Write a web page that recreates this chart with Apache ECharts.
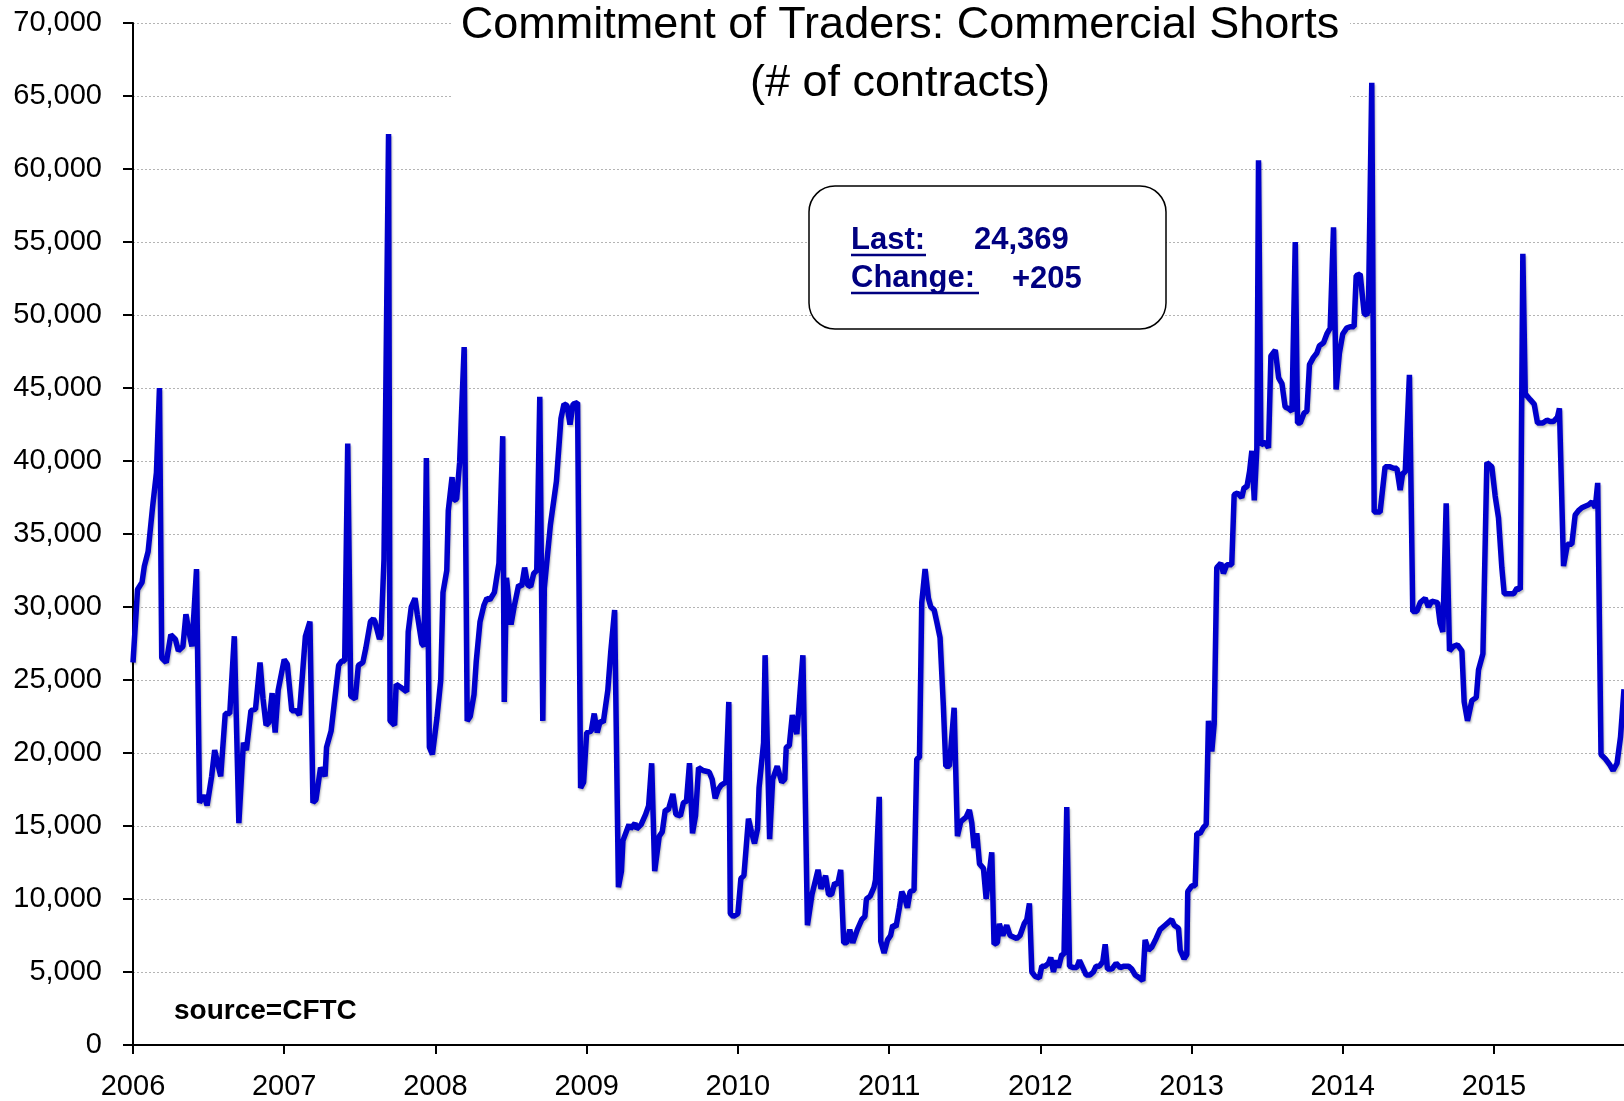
<!DOCTYPE html>
<html>
<head>
<meta charset="utf-8">
<title>Commitment of Traders: Commercial Shorts</title>
<script src="https://cdn.jsdelivr.net/npm/echarts@6/dist/echarts.min.js"></script>
<style>
    html, body { margin: 0; padding: 0; background: #fff; }
    #main { width: 1624px; height: 1101px; }
</style>
</head>
<body>
<div id="main"></div>
<script>
    // commercial shorts, x is the date as a decimal year
    var t0607 = [2006.00, 2006.03, 2006.06, 2006.075, 2006.10, 2006.13, 2006.155, 2006.175, 2006.19, 2006.22,
        2006.25, 2006.28, 2006.30, 2006.33, 2006.35, 2006.37, 2006.39, 2006.42, 2006.44, 2006.47,
        2006.49, 2006.52, 2006.54, 2006.58, 2006.61, 2006.64, 2006.67, 2006.70, 2006.73, 2006.75,
        2006.78, 2006.81, 2006.84, 2006.86, 2006.88, 2006.90, 2006.92, 2006.94, 2006.96, 2007.00,
        2007.02, 2007.05, 2007.08, 2007.10, 2007.14, 2007.17, 2007.19, 2007.21, 2007.24, 2007.27,
        2007.28, 2007.31, 2007.33, 2007.36, 2007.38, 2007.40, 2007.42, 2007.44, 2007.47, 2007.49,
        2007.52, 2007.54, 2007.57, 2007.59, 2007.60, 2007.63, 2007.64, 2007.66, 2007.69, 2007.70,
        2007.73, 2007.74, 2007.77, 2007.81, 2007.82, 2007.84, 2007.865, 2007.88, 2007.91, 2007.925,
        2007.94, 2007.96, 2007.98];
    var v0607 = [26200, 31200, 31700, 32800, 33800, 36900, 39200, 45000, 26500, 26200,
        28100, 27800, 27000, 27300, 29500, 28300, 27300, 32600, 16600, 17100,
        16400, 18400, 20200, 18400, 22700, 22700, 28000, 15200, 20700, 20200,
        22900, 23000, 26200, 23700, 21900, 22100, 24100, 21400, 24300, 26400,
        26100, 22900, 22900, 22600, 28000, 29000, 16600, 16800, 19000, 18400,
        20400, 21500, 23300, 26000, 26300, 26300, 41200, 23900, 23700, 26000,
        26200, 27200, 29000, 29200, 29000, 27800, 28100, 33300, 62400, 22200,
        21900, 24700, 24500, 24200, 28300, 30000, 30600, 29500, 27500, 27300,
        40200, 20400, 19900];

    var t0809 = [2008.01, 2008.035, 2008.05, 2008.075, 2008.085, 2008.11, 2008.12, 2008.14, 2008.16, 2008.19,
        2008.21, 2008.23, 2008.255, 2008.27, 2008.295, 2008.32, 2008.34, 2008.36, 2008.39, 2008.42,
        2008.445, 2008.455, 2008.47, 2008.50, 2008.52, 2008.55, 2008.57, 2008.59, 2008.61, 2008.63,
        2008.65, 2008.67, 2008.69, 2008.71, 2008.72, 2008.76, 2008.80, 2008.83, 2008.85, 2008.87,
        2008.89, 2008.91, 2008.94, 2008.96, 2008.98, 2009.00, 2009.03, 2009.05, 2009.07, 2009.09,
        2009.11, 2009.14, 2009.16, 2009.185];
    var v0809 = [22400, 25000, 31000, 32500, 36600, 38900, 37300, 37400, 39900, 47800,
        22200, 22500, 24000, 26300, 29000, 30100, 30600, 30500, 31000, 33000,
        41700, 23500, 32000, 28800, 30000, 31500, 31400, 32700, 31500, 31400,
        32300, 32500, 44400, 22200, 31300, 35600, 38600, 42900, 43900, 43800,
        42500, 43900, 44000, 17600, 18000, 21400, 21500, 22700, 21400, 22200,
        22100, 24300, 27000, 29800];

    var t0912 = [2009.21, 2009.23, 2009.24, 2009.28, 2009.29, 2009.32, 2009.33, 2009.36, 2009.39, 2009.41,
        2009.43, 2009.45, 2009.48, 2009.50, 2009.52, 2009.54, 2009.57, 2009.59, 2009.62, 2009.64,
        2009.66, 2009.68, 2009.70, 2009.72, 2009.74, 2009.77, 2009.81, 2009.83, 2009.85, 2009.87,
        2009.89, 2009.92, 2009.94, 2009.95, 2009.97, 2010.00, 2010.02, 2010.04, 2010.07, 2010.09,
        2010.11, 2010.13, 2010.14, 2010.17, 2010.18, 2010.21, 2010.23, 2010.26, 2010.29, 2010.31,
        2010.32, 2010.34, 2010.36, 2010.39, 2010.40, 2010.43, 2010.46, 2010.49, 2010.53, 2010.55,
        2010.58, 2010.60, 2010.62, 2010.64, 2010.66, 2010.68, 2010.70, 2010.72, 2010.74, 2010.76,
        2010.79, 2010.82, 2010.84, 2010.85, 2010.875, 2010.90, 2010.91, 2010.935, 2010.945, 2010.967,
        2010.99, 2011.01, 2011.024, 2011.046, 2011.068, 2011.084, 2011.106, 2011.121, 2011.139, 2011.165,
        2011.183, 2011.201, 2011.216, 2011.238, 2011.26, 2011.276, 2011.298, 2011.315, 2011.337, 2011.359,
        2011.375, 2011.399, 2011.43, 2011.452, 2011.474, 2011.509, 2011.531, 2011.547, 2011.562, 2011.58,
        2011.598, 2011.624, 2011.642, 2011.657, 2011.679, 2011.694, 2011.716, 2011.729, 2011.752, 2011.778,
        2011.80, 2011.822, 2011.844, 2011.866, 2011.893, 2011.911, 2011.928, 2011.944, 2011.966, 2011.994,
        2012.01, 2012.032, 2012.054, 2012.069, 2012.087, 2012.104, 2012.12, 2012.142, 2012.157, 2012.175,
        2012.193, 2012.219, 2012.241, 2012.259, 2012.281, 2012.303, 2012.329, 2012.351, 2012.369, 2012.391,
        2012.413, 2012.429, 2012.444, 2012.473, 2012.501, 2012.528, 2012.554, 2012.583, 2012.605, 2012.627,
        2012.656, 2012.678, 2012.693, 2012.715, 2012.737, 2012.766, 2012.792, 2012.825, 2012.847, 2012.869,
        2012.885, 2012.914, 2012.925, 2012.951, 2012.969, 2012.975];
    var v0912 = [10800, 11900, 14000, 15100, 14800, 15200, 14800, 15100, 15800, 16400,
        19300, 11900, 14300, 14600, 16100, 16100, 17200, 15800, 15700, 16600,
        16700, 19300, 14500, 15700, 19000, 18800, 18700, 18200, 16900, 17500,
        17800, 18000, 23500, 9000, 8800, 9000, 11400, 11600, 15500, 14600,
        13800, 14800, 17600, 20700, 26700, 14100, 18200, 19100, 18000, 18200,
        20400, 20500, 22600, 21300, 21300, 26700, 8200, 10300, 12000, 10700,
        11600, 10300, 10300, 11100, 11000, 12000, 7000, 7000, 7900, 7000,
        7900, 8600, 8800, 10000, 10200, 10800, 11300, 17000, 7100, 6300,
        7200, 7500, 8200, 8100, 9400, 10500, 10000, 9400, 10500, 10600,
        19600, 19700, 30300, 32600, 30600, 30000, 29800, 29000, 27900, 23200,
        19100, 19100, 23100, 14300, 15300, 15600, 16100, 15200, 13500, 14500,
        12400, 12100, 10000, 11300, 13200, 6900, 7000, 8300, 7500, 8200,
        7500, 7400, 7300, 7500, 8300, 8600, 9700, 5000, 4700, 4600,
        5400, 5400, 5600, 6000, 5000, 5800, 5300, 6200, 6200, 16300,
        5400, 5300, 5300, 5800, 5300, 4800, 4800, 5000, 5400, 5400,
        5700, 6900, 5200, 5200, 5600, 5300, 5400, 5400, 5200, 4800,
        4600, 4400, 7200, 6500, 6700, 7300, 7900, 8200, 8400, 8600,
        8200, 8000, 6500, 5900, 6200, 10500];

    var t1315 = [2013.002, 2013.024, 2013.035, 2013.057, 2013.079, 2013.097, 2013.112, 2013.134, 2013.15, 2013.167,
        2013.194, 2013.211, 2013.233, 2013.266, 2013.282, 2013.304, 2013.332, 2013.348, 2013.366, 2013.384,
        2013.399, 2013.415, 2013.432, 2013.443, 2013.459, 2013.487, 2013.509, 2013.525, 2013.554, 2013.576,
        2013.598, 2013.619, 2013.641, 2013.664, 2013.686, 2013.701, 2013.719, 2013.745, 2013.763, 2013.78,
        2013.806, 2013.829, 2013.846, 2013.873, 2013.895, 2013.917, 2013.939, 2013.956, 2013.978, 2014.00,
        2014.026, 2014.049, 2014.075, 2014.089, 2014.115, 2014.142, 2014.159, 2014.17, 2014.192, 2014.208,
        2014.247, 2014.28, 2014.313, 2014.336, 2014.358, 2014.38, 2014.397, 2014.413, 2014.441, 2014.463,
        2014.49, 2014.512, 2014.545, 2014.567, 2014.589, 2014.627, 2014.644, 2014.662, 2014.684, 2014.706,
        2014.732, 2014.759, 2014.788, 2014.803, 2014.825, 2014.854, 2014.883, 2014.898, 2014.927, 2014.953,
        2014.986, 2015.008, 2015.03, 2015.052, 2015.068, 2015.103, 2015.13, 2015.152, 2015.174, 2015.191,
        2015.207, 2015.24, 2015.266, 2015.288, 2015.323, 2015.35, 2015.371, 2015.393, 2015.42, 2015.433,
        2015.46, 2015.486, 2015.515, 2015.537, 2015.559, 2015.581, 2015.603, 2015.626, 2015.648, 2015.67,
        2015.686, 2015.708, 2015.737, 2015.765, 2015.788, 2015.814, 2015.837, 2015.86];
    var v1315 = [10900, 10900, 14500, 14500, 14900, 15100, 22200, 20100, 22000, 32700,
        33000, 32300, 32900, 32900, 37700, 37800, 37500, 38200, 38200, 39300,
        40700, 37300, 40900, 60600, 41100, 41300, 40900, 47200, 47600, 45700,
        45300, 43700, 43600, 43400, 55000, 42600, 42600, 43300, 43400, 46600,
        47100, 47400, 47900, 48100, 48700, 49100, 56000, 44900, 47400, 48700,
        49100, 49200, 49200, 52700, 52800, 50100, 50000, 50400, 65900, 36500,
        36500, 39600, 39600, 39500, 39500, 38000, 39200, 39200, 45900, 29700,
        29700, 30300, 30600, 30000, 30400, 30300, 28900, 28300, 37100, 27000,
        27300, 27400, 27000, 23500, 22200, 23600, 23800, 25700, 26800, 39900,
        39600, 37600, 36100, 32700, 30900, 30900, 30900, 31300, 31200, 54200,
        44600, 44200, 43900, 42600, 42600, 42800, 42700, 42700, 43000, 43600,
        32800, 34300, 34300, 36300, 36600, 36800, 36900, 37000, 37200, 36800,
        38500, 19900, 19600, 19200, 18800, 19300, 21100, 24369];

    var lastValue = 24369;
    var lastChange = 205;

    var sans = '"Liberation Sans", Arial, sans-serif';
    var navy = '#000080';

    function pairs(t, v) {
        var out = [];
        for (var i = 0; i < t.length; i++) out.push([t[i], v[i]]);
        return out;
    }
    var data = [].concat(pairs(t0607, v0607), pairs(t0809, v0809), pairs(t0912, v0912), pairs(t1315, v1315));

    function commas(n) {
        return String(n).replace(/\B(?=(\d{3})+(?!\d))/g, ',');
    }

    var myChart = echarts.init(document.getElementById('main'));
    var option = {
        backgroundColor: '#fff',
        animation: false,
        grid: { left: 133, right: 0, top: 23, bottom: 56, containLabel: false, outerBoundsMode: 'none' },
        xAxis: {
            type: 'value',
            min: 2006,
            max: 2015.86,
            interval: 1,
            axisLine: { lineStyle: { color: '#000', width: 2 } },
            axisTick: { length: 9, lineStyle: { color: '#000', width: 2 } },
            axisLabel: {
                margin: 27, color: '#000', fontSize: 29, fontFamily: sans,
                showMaxLabel: false,
                formatter: function (v) { return Math.round(v); }
            },
            splitLine: { show: false }
        },
        yAxis: {
            type: 'value',
            min: 0,
            max: 70000,
            interval: 5000,
            axisLine: { show: true, lineStyle: { color: '#000', width: 2 } },
            axisTick: { show: true, length: 10, lineStyle: { color: '#000', width: 2 } },
            axisLabel: {
                margin: 31, color: '#000', fontSize: 29, fontFamily: sans,
                formatter: function (v) { return commas(v); }
            },
            splitLine: { lineStyle: { color: '#b4b4b4', type: [2, 2], width: 1 } }
        },
        series: [{
            type: 'line',
            data: data,
            showSymbol: false,
            lineStyle: {
                color: '#0000CC', width: 5.5,
                shadowColor: 'rgba(0,0,0,0.25)', shadowBlur: 2, shadowOffsetX: 1, shadowOffsetY: 2
            },
            z: 3
        }],
        graphic: [
            // title block on white, hides the grid lines behind it
            { type: 'rect', z: 50, shape: { x: 451, y: 0, width: 899, height: 108 }, style: { fill: '#fff' } },
            { type: 'text', z: 51, x: 900, y: 26,
              style: { text: 'Commitment of Traders: Commercial Shorts', font: '45px ' + sans, fill: '#000', align: 'center', verticalAlign: 'middle' } },
            { type: 'text', z: 51, x: 900, y: 84,
              style: { text: '(# of contracts)', font: '45px ' + sans, fill: '#000', align: 'center', verticalAlign: 'middle' } },

            // last / change box
            { type: 'rect', z: 50, shape: { x: 809, y: 186, width: 357, height: 143, r: 26 },
              style: { fill: '#fff', stroke: '#000', lineWidth: 1.5 } },
            { type: 'text', z: 51, x: 851, y: 240,
              style: { text: 'Last:', font: 'bold 31px ' + sans, fill: navy, verticalAlign: 'middle' } },
            { type: 'line', z: 51, shape: { x1: 851, y1: 255, x2: 926, y2: 255 }, style: { stroke: navy, lineWidth: 2.5 } },
            { type: 'text', z: 51, x: 974, y: 240,
              style: { text: commas(lastValue), font: 'bold 31px ' + sans, fill: navy, verticalAlign: 'middle' } },
            { type: 'text', z: 51, x: 851, y: 278,
              style: { text: 'Change:', font: 'bold 31px ' + sans, fill: navy, verticalAlign: 'middle' } },
            { type: 'line', z: 51, shape: { x1: 851, y1: 293, x2: 979, y2: 293 }, style: { stroke: navy, lineWidth: 2.5 } },
            { type: 'text', z: 51, x: 1012, y: 279,
              style: { text: (lastChange >= 0 ? '+' : '') + lastChange, font: 'bold 31px ' + sans, fill: navy, verticalAlign: 'middle' } },

            { type: 'text', z: 51, x: 174, y: 1011,
              style: { text: 'source=CFTC', font: 'bold 28px ' + sans, fill: '#000', verticalAlign: 'middle' } }
        ]
    };
    myChart.setOption(option);
</script>
</body>
</html>
